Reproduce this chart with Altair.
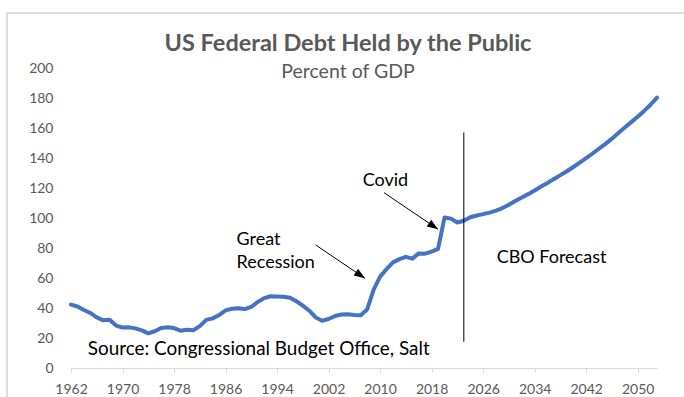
import altair as alt
import pandas as pd

# ---------------- data ----------------
hist_years = list(range(1962, 2023))
hist_values = [42.3, 41.0, 38.7, 36.7, 33.7, 31.8, 32.2, 28.3, 27.0, 27.1,
               26.4, 25.1, 23.1, 24.5, 26.7, 27.1, 26.6, 24.9, 25.5, 25.2,
               27.9, 32.1, 33.1, 35.3, 38.4, 39.5, 39.8, 39.3, 40.8, 44.0,
               46.6, 47.8, 47.7, 47.5, 46.8, 44.5, 41.6, 38.2, 33.7, 31.5,
               32.7, 34.7, 35.7, 35.8, 35.4, 35.2, 39.2, 52.3, 60.9, 65.9,
               70.4, 72.6, 74.1, 72.9, 76.4, 76.2, 77.6, 79.4, 100.3, 99.6,
               97.0]
fcst_years = list(range(2023, 2054))
fcst_values = [98.2, 100.5, 101.7, 102.6, 103.6, 104.9, 106.6, 108.9, 111.4, 113.7,
               115.9, 118.4, 121.0, 123.4, 126.0, 128.6, 131.2, 134.0, 136.9, 139.9,
               143.0, 146.3, 149.4, 152.9, 156.6, 160.3, 163.9, 167.5, 171.4, 175.5,
               180.3]

x_tick_values = list(range(1962, 2051, 8))
y_tick_values = list(range(0, 201, 20))

forecast_start = [2023]
forecast_rule_low = [17.5]
forecast_rule_high = [157.0]

label_texts = ["Covid", "Great", "Recession", "CBO Forecast",
               "Source: Congressional Budget Office, Salt"]
label_years = [2007.3, 1987.7, 1987.7, 2028.1, 1964.6]
label_values = [121.3, 82.0, 66.5, 70.0, 8.7]
label_sizes = [18, 18, 18, 18, 18.9]

arrow_names = ["Great Recession", "Covid"]
arrow_from_year = [2000.0, 2010.6]
arrow_from_value = [82.0, 116.9]
arrow_to_year = [2007.65, 2019.0]
arrow_to_value = [59.8, 92.5]
arrow_angle = [34, 34]

title_text = "US Federal Debt Held by the Public"
subtitle_text = "Percent of GDP"

# ---------------- tables ----------------
series = pd.DataFrame({
    "year": hist_years + fcst_years,
    "debt": hist_values + fcst_values,
})
labels = pd.DataFrame({"text": label_texts, "year": label_years,
                       "value": label_values, "size": label_sizes})
arrows = pd.DataFrame({
    "name": arrow_names,
    "x": arrow_from_year, "y": arrow_from_value,
    "x2": arrow_to_year, "y2": arrow_to_value,
    "angle": arrow_angle,
})
vrule = pd.DataFrame({"year": forecast_start, "lo": forecast_rule_low, "hi": forecast_rule_high})

FONT = "Lato"
GRAY = "#595959"

xscale = alt.Scale(domain=[1962, 2053], nice=False, zero=False)
yscale = alt.Scale(domain=[0, 200], nice=False)

x_axis = alt.Axis(values=x_tick_values, format="d", title=None, grid=False,
                  domainColor="#d9d9d9", tickColor="#d9d9d9", tickSize=4,
                  labelPadding=10, labelFontSize=14, labelColor=GRAY, labelFont=FONT,
                  labelFlush=False, labelOverlap=False)
y_axis = alt.Axis(values=y_tick_values, tickCount=11, title=None, grid=False, domain=False,
                  ticks=False, labelPadding=18, labelFontSize=14,
                  labelColor=GRAY, labelFont=FONT, labelOverlap=False,
                  labelFlush=False, labelSeparation=0)

line = alt.Chart(series).mark_line(
    color="#4472C4", strokeWidth=4, strokeJoin="round", strokeCap="round"
).encode(
    x=alt.X("year:Q", scale=xscale, axis=x_axis),
    y=alt.Y("debt:Q", scale=yscale, axis=y_axis),
)

rule = alt.Chart(vrule).mark_rule(color="black", strokeWidth=1).encode(
    x=alt.X("year:Q", scale=xscale, axis=x_axis),
    y=alt.Y("lo:Q", scale=yscale, axis=y_axis),
    y2="hi:Q",
)

text = alt.Chart(labels).mark_text(
    align="left", baseline="alphabetic", font=FONT, color="black"
).encode(
    x=alt.X("year:Q", scale=xscale, axis=x_axis),
    y=alt.Y("value:Q", scale=yscale, axis=y_axis),
    text="text:N",
    size=alt.Size("size:Q", scale=None, legend=None),
)

shafts = alt.Chart(arrows).mark_rule(color="black", strokeWidth=1).encode(
    x=alt.X("x:Q", scale=xscale, axis=x_axis),
    y=alt.Y("y:Q", scale=yscale, axis=y_axis),
    x2="x2:Q",
    y2="y2:Q",
)

heads = alt.Chart(arrows).mark_point(
    shape="M0,0 L-1,-0.36 L-1,0.36 Z", filled=True, color="black",
    opacity=1, size=484, strokeWidth=0
).encode(
    x=alt.X("x2:Q", scale=xscale, axis=x_axis),
    y=alt.Y("y2:Q", scale=yscale, axis=y_axis),
    angle=alt.Angle("angle:Q", scale=None),
)

frame = alt.Chart(pd.DataFrame({"k": [0]})).mark_rule(color="#d0d0d0", strokeWidth=1.5).encode(
    x=alt.value(-64), y=alt.value(-55), y2=alt.value(340)
)
frame_top = alt.Chart(pd.DataFrame({"k": [0]})).mark_rule(color="#d0d0d0", strokeWidth=1.5).encode(
    x=alt.value(-64), x2=alt.value(620), y=alt.value(-55)
)

chart = alt.layer(frame, frame_top, line, rule, shafts, heads, text).properties(
    width=586,
    height=300,
    title=alt.TitleParams(
        text=title_text, subtitle=subtitle_text, anchor="middle", dx=-16,
        font=FONT, fontSize=23.5, fontWeight="bold", color=GRAY,
        subtitleFont=FONT, subtitleFontSize=19.5, subtitleColor=GRAY,
        subtitlePadding=7, offset=0, dy=69,
    ),
    autosize=alt.AutoSizeParams(type="none"),
    padding={"left": 71, "top": 68, "right": 27, "bottom": 29},
).configure_view(stroke=None).configure_axis(labelOverlap=False)

chart.save("out.html", embed_options={"renderer": "svg", "actions": False})
